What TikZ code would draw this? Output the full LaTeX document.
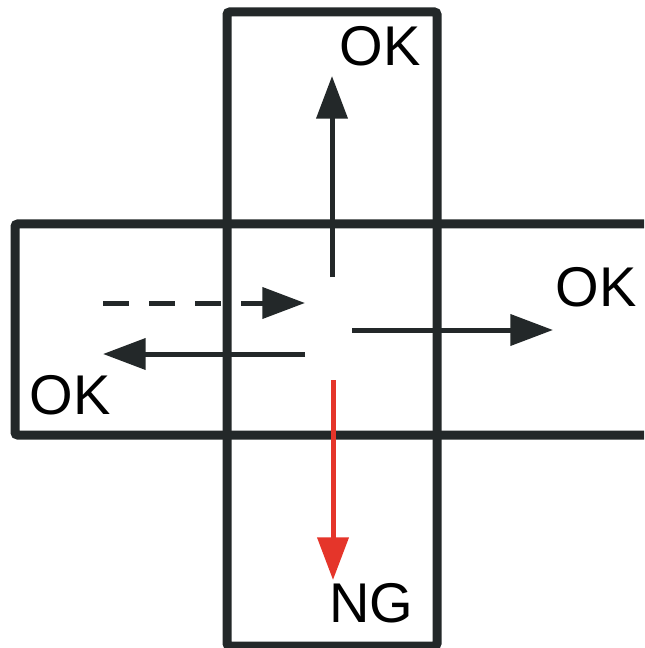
\documentclass[tikz,border=0pt]{standalone}
\usepackage{fontspec}
\setmainfont{Liberation Sans}
\usetikzlibrary{arrows.meta}
\definecolor{ink}{HTML}{232829}
\definecolor{ngred}{HTML}{E5352A}
\tikzset{
  frame/.style={draw=ink, line width=6.75pt, rounded corners=2pt},
  flow/.style={draw=ink, line width=3.75pt, -{Triangle[length=32pt,width=23pt]}},
  flowdash/.style={flow, dash pattern=on 19.5pt off 15pt},
  bad/.style={flow, draw=ngred, fill=ngred, -{Triangle[length=32pt,width=23pt,fill=ngred]}},
  lbl/.style={inner sep=0pt, font=\fontsize{42}{42}\selectfont, text=black}
}
\begin{document}
\begin{tikzpicture}[x=0.75pt,y=-0.75pt]
\useasboundingbox (0,0) rectangle (644,648);
\clip (0,0) rectangle (644,648);
\fill[white] (0,0) rectangle (644,648);
% frames
\draw[frame] (227,12) rectangle (437,646);
\draw[frame] (700,224) -- (15,224) -- (15,435) -- (700,435);
% endpoints
\coordinate (upS) at (332,277);
\coordinate (upE) at (332,76);
\coordinate (rtS) at (352,330);
\coordinate (rtE) at (553,330);
\coordinate (dsS) at (103,303);
\coordinate (dsE) at (305,303);
\coordinate (ltS) at (305,354);
\coordinate (ltE) at (103,354);
\coordinate (ngS) at (333,380);
\coordinate (ngE) at (333,580);
% arrows
\draw[flow] (upS) -- (upE);
\draw[flow] (rtS) -- (rtE);
\draw[flowdash] (dsS) -- (dsE);
\draw[flow] (ltS) -- (ltE);
\draw[bad] (ngS) -- (ngE);
% labels
\node[lbl] (okTop) at (380,46) {OK};
\node[lbl] (okRight) at (596,287) {OK};
\node[lbl] (okLeft) at (70,395) {OK};
\node[lbl] (ng) at (371,603) {NG};
\end{tikzpicture}
\end{document}
